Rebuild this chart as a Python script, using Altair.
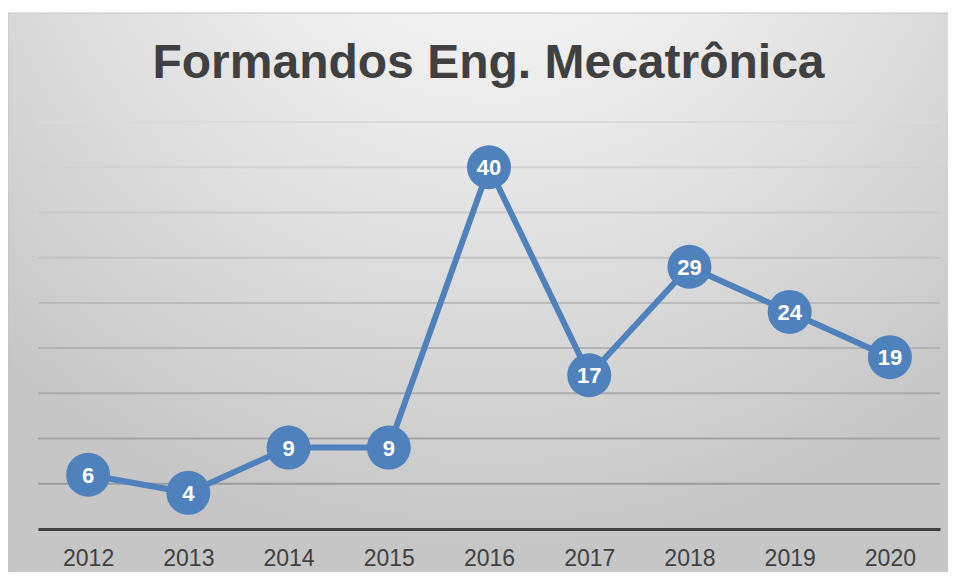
import altair as alt
import pandas as pd

years = ["2012", "2013", "2014", "2015", "2016", "2017", "2018", "2019", "2020"]
values = [6, 4, 9, 9, 40, 17, 29, 24, 19]
grid_values = [5, 10, 15, 20, 25, 30, 35, 40, 45]
title_text = "Formandos Eng. Mecatrônica"

df = pd.DataFrame({"ano": years, "formandos": values})
grid_df = pd.DataFrame({"v": grid_values})
one = pd.DataFrame({"k": [0]})

W, H = 902, 407
FONT = "Liberation Sans"
ydom = [0, 45]

bg = alt.Chart(one).mark_rect(
    fill=alt.RadialGradient(
        gradient="radial",
        stops=[
            alt.GradientStop(color="#ffffff", offset=0),
            alt.GradientStop(color="#e8e8e8", offset=0.45),
            alt.GradientStop(color="#c6c6c6", offset=1),
        ],
        x1=0.5, y1=0.0, r1=0, x2=0.5, y2=0.0, r2=0.75,
    ),
    stroke="#c4c4c4",
    strokeWidth=1,
).encode(x=alt.value(-30), x2=alt.value(940), y=alt.value(-109), y2=alt.value(480))

title = alt.Chart(one).mark_text(
    text=title_text, font=FONT, fontSize=48, fontWeight="bold", color="#404040",
    align="center", baseline="alphabetic",
).encode(x=alt.value(450.5), y=alt.value(-44))

grid = alt.Chart(grid_df).mark_rule(strokeWidth=2).encode(
    y=alt.Y("v:Q", scale=alt.Scale(domain=ydom), axis=None),
    color=alt.Color("v:Q", scale=alt.Scale(domain=[5, 45], range=["#9c9c9c", "#dadada"]), legend=None),
)

base = alt.Chart(df).encode(
    x=alt.X(
        "ano:N", sort=years, title=None,
        scale=alt.Scale(type="point", padding=0.5),
        axis=alt.Axis(
            labelAngle=0, labelFont=FONT, labelFontSize=23, labelColor="#404040",
            labelPadding=18, ticks=False, grid=False, domain=True,
            domainColor="#404040", domainWidth=3, zindex=1,
        ),
    ),
    y=alt.Y("formandos:Q", scale=alt.Scale(domain=ydom), axis=None),
)

line = base.mark_line(color="#4f81bd", strokeWidth=6)
pts = base.mark_point(filled=True, size=1936, color="#4f81bd", opacity=1, shape="circle")
labels = base.mark_text(
    font=FONT, fontSize=22, fontWeight="bold", color="white", baseline="middle", dy=1
).encode(text="formandos:Q")

chart = alt.layer(bg, title, grid, line, pts, labels).properties(
    width=W, height=H,
    padding={"left": 30, "top": 114, "right": 8, "bottom": 43},
    autosize=alt.AutoSizeParams(type="none"),
    background="white",
).configure_view(stroke=None)

chart.save("out.html", embed_options={"renderer": "svg", "actions": False})
